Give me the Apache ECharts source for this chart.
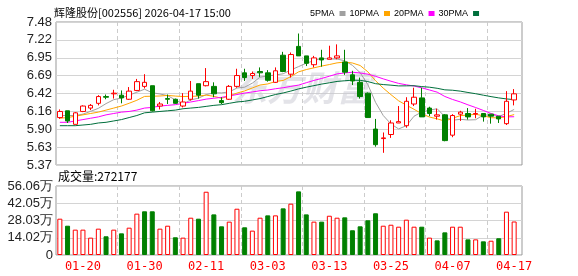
<!DOCTYPE html>
<html><head><meta charset="utf-8">
<script src="https://cdn.jsdelivr.net/npm/echarts@6/dist/echarts.min.js"></script>
<style>html,body{margin:0;padding:0;background:#fff}#c{width:578px;height:276px}</style>
</head><body><div id="c"></div>
<script>
const dates = ['01-15','01-16','01-19','01-20','01-21','01-22','01-23','01-26','01-27','01-28','01-29','01-30','02-02','02-03','02-04','02-05','02-06','02-09','02-10','02-11','02-12','02-13','02-24','02-25','02-26','02-27','03-02','03-03','03-04','03-05','03-06','03-09','03-10','03-11','03-12','03-13','03-16','03-17','03-18','03-19','03-20','03-23','03-24','03-25','03-26','03-27','03-30','03-31','04-01','04-02','04-03','04-07','04-08','04-09','04-10','04-13','04-14','04-15','04-16','04-17'];
const opens = [6.07,6.17,5.97,6.16,6.21,6.28,6.38,6.42,6.40,6.34,6.47,6.53,6.54,6.24,6.35,6.34,6.24,6.34,6.57,6.54,6.53,6.32,6.34,6.53,6.73,6.69,6.75,6.73,6.59,6.99,6.71,7.12,6.98,6.85,6.95,6.93,6.95,6.89,6.70,6.59,6.43,5.90,5.76,5.82,5.99,5.95,6.27,6.36,6.21,6.09,6.11,5.81,6.12,6.13,6.12,6.13,6.12,6.09,5.98,6.33];
const closes = [6.16,6.02,6.14,6.24,6.25,6.38,6.37,6.43,6.36,6.46,6.60,6.59,6.17,6.27,6.34,6.28,6.30,6.46,6.40,6.60,6.42,6.29,6.53,6.69,6.66,6.72,6.73,6.62,6.76,6.75,7.00,6.98,6.87,6.95,6.92,6.95,6.98,6.74,6.61,6.38,6.07,5.67,5.77,5.99,6.01,6.31,6.37,6.08,6.13,6.11,5.73,6.10,6.15,6.08,6.13,6.08,6.09,6.05,6.31,6.42];
const lows = [6.05,5.99,5.97,6.15,6.18,6.25,6.34,6.35,6.28,6.33,6.46,6.50,6.16,6.19,6.27,6.27,6.22,6.32,6.35,6.53,6.37,6.27,6.33,6.51,6.61,6.64,6.67,6.60,6.58,6.74,6.66,6.98,6.83,6.81,6.82,6.93,6.93,6.70,6.55,6.35,6.07,5.64,5.55,5.77,5.99,5.92,6.24,6.08,6.09,6.04,5.72,5.78,6.02,6.04,6.06,6.01,5.98,5.99,5.96,6.25];
const highs = [6.19,6.17,6.15,6.25,6.27,6.40,6.41,6.48,6.47,6.52,6.64,6.71,6.54,6.30,6.41,6.35,6.43,6.61,6.57,6.80,6.59,6.37,6.55,6.79,6.79,6.75,6.81,6.77,6.81,7.04,7.03,7.31,6.98,6.98,7.07,7.13,7.15,7.07,6.76,6.66,6.44,6.05,5.85,6.03,6.24,6.37,6.51,6.51,6.23,6.20,6.12,6.12,6.17,6.21,6.20,6.13,6.12,6.09,6.46,6.49];
const volumes = [29.5,23.8,20.6,20.6,14.1,21.4,15.2,20.6,17.6,22.2,33.6,35.5,35.5,21.4,23.8,14.4,14.1,30.3,29.5,51.4,33.0,23.3,27.1,37.6,22.5,19.8,30.3,32.2,32.2,37.9,41.7,51.7,33.0,27.1,27.1,31.9,30.3,30.6,20.1,23.3,28.2,33.9,23.8,24.6,23.0,28.7,23.0,23.0,14.1,11.9,18.4,23.0,23.0,12.7,12.7,11.1,11.6,13.6,35.2,27.2177];
const ma5 = [6.10,6.10,6.10,6.12,6.162,6.206,6.276,6.334,6.358,6.400,6.444,6.488,6.436,6.418,6.394,6.330,6.272,6.330,6.356,6.408,6.436,6.434,6.448,6.506,6.518,6.578,6.666,6.684,6.698,6.716,6.772,6.822,6.872,6.910,6.944,6.934,6.934,6.908,6.840,6.732,6.556,6.294,6.100,5.976,5.902,5.950,6.090,6.152,6.180,6.200,6.084,6.030,6.044,6.034,6.038,6.108,6.106,6.086,6.132,6.190];
const ma10 = [6.06,6.07,6.09,6.11,6.13,6.15,6.18,6.21,6.24,6.281,6.325,6.382,6.385,6.388,6.397,6.387,6.380,6.383,6.387,6.401,6.384,6.354,6.389,6.431,6.463,6.507,6.550,6.566,6.602,6.617,6.675,6.744,6.778,6.804,6.830,6.852,6.877,6.889,6.875,6.838,6.745,6.614,6.504,6.408,6.317,6.253,6.192,6.126,6.078,6.051,6.017,6.060,6.098,6.107,6.119,6.096,6.068,6.065,6.083,6.114];
const ma20 = [6.00,6.00,6.02,6.04,6.06,6.08,6.11,6.13,6.15,6.16,6.18,6.21,6.22,6.24,6.25,6.26,6.28,6.30,6.32,6.342,6.355,6.368,6.388,6.410,6.431,6.448,6.466,6.476,6.495,6.510,6.530,6.549,6.584,6.618,6.647,6.680,6.714,6.728,6.739,6.728,6.710,6.679,6.641,6.606,6.574,6.553,6.535,6.508,6.477,6.445,6.381,6.337,6.301,6.258,6.218,6.175,6.130,6.095,6.080,6.082];
const ma30 = [5.95,5.95,5.95,5.96,5.97,5.99,6.00,6.02,6.04,6.07,6.10,6.14,6.15,6.16,6.17,6.18,6.20,6.21,6.22,6.235,6.25,6.26,6.28,6.30,6.31,6.33,6.35,6.38,6.41,6.433,6.461,6.493,6.518,6.541,6.564,6.583,6.603,6.613,6.622,6.619,6.601,6.570,6.557,6.548,6.537,6.538,6.540,6.527,6.518,6.502,6.479,6.473,6.460,6.440,6.422,6.400,6.379,6.360,6.345,6.334];
const priceTicks = ['5.37','5.63','5.90','6.16','6.42','6.69','6.95','7.22','7.48'];
const volTicks = ['0','14.02万','28.03万','42.05万','56.06万'];
const titleText = '辉隆股份[002556] 2026-04-17 15:00';
const volText = '成交量:272177';

const RED = '#ff0000', GREEN = '#008000';
const kData = opens.map((o, i) => [o, closes[i], lows[i], highs[i]]);
const volData = volumes.map((v, i) => {
  const up = i === 0 ? closes[i] >= opens[i] : closes[i] >= closes[i - 1];
  return { value: v, itemStyle: { color: up ? '#ffffff' : GREEN, borderColor: up ? RED : GREEN, borderWidth: 1 } };
});

const chart = echarts.init(document.getElementById('c'), null, { renderer: 'canvas' });
const labelFont = { fontFamily: '"Liberation Sans", Arial, sans-serif', color: '#222', fontSize: 13 };
const frameX = (gi) => ({
  type: 'value', gridIndex: gi, min: -3.5, max: 57, interval: 8,
  axisLine: { show: false }, axisTick: { show: false }, axisLabel: { show: false },
  splitLine: { show: true, lineStyle: { color: '#cccccc', type: [4, 3], width: 1 } }
});
const maLine = (name, data, color) => ({
  name, type: 'line', xAxisIndex: 1, yAxisIndex: 1, data, symbol: 'none', smooth: false,
  lineStyle: { width: 1, color }, itemStyle: { color }, z: 3
});

chart.setOption({
  animation: false,
  backgroundColor: '#fff',
  title: { text: titleText, left: 49, top: 2, textStyle: { fontSize: 11, fontWeight: 'normal', color: '#000', fontFamily: '"Noto Sans CJK SC", sans-serif' } },
  legend: {
    top: 4, left: 305, align: 'right', icon: 'rect', itemWidth: 6, itemHeight: 5, itemGap: 4,
    textStyle: { fontSize: 9, color: '#000', fontFamily: '"Liberation Sans Narrow", "Liberation Sans", sans-serif' },
    data: ['5PMA', '10PMA', '20PMA', '30PMA']
  },
  graphic: [
    { type: 'text', left: 58, top: 170, z: 10, style: { text: volText, fontSize: 12, fill: '#000', fontFamily: '"Noto Sans CJK SC", sans-serif' } },
    { type: 'text', left: 232, top: 70, z: 1, silent: true, style: { text: '东方财富', fontSize: 35, fontWeight: 'bold', fontStyle: 'italic', fill: 'rgba(200,200,210,0.5)', fontFamily: '"Noto Sans CJK SC", sans-serif' } }
  ],
  grid: [
    { left: 56, top: 22, width: 466, height: 143, show: true, borderColor: '#999', borderWidth: 1, backgroundColor: 'transparent' },
    { left: 56, top: 22, width: 462, height: 143 },
    { left: 56, top: 186, width: 466, height: 69, show: true, borderColor: '#999', borderWidth: 1, backgroundColor: 'transparent' },
    { left: 56, top: 186, width: 462, height: 69 }
  ],
  xAxis: [
    frameX(0),
    { type: 'category', gridIndex: 1, data: dates, boundaryGap: true, show: false },
    frameX(2),
    { type: 'category', gridIndex: 3, data: dates, boundaryGap: true,
      axisLine: { show: false }, axisTick: { show: false }, splitLine: { show: false },
      axisLabel: { interval: (i) => i % 8 === 3, color: RED, fontSize: 12, margin: 6, fontFamily: '"DejaVu Sans Mono", monospace' } }
  ],
  yAxis: [
    { type: 'value', gridIndex: 0, min: 0, max: 8, interval: 1,
      axisLine: { show: false }, axisTick: { show: false },
      axisLabel: Object.assign({ margin: 4, formatter: (v) => priceTicks[v] }, labelFont),
      splitLine: { show: true, lineStyle: { color: '#d4d4d4', width: 1 } } },
    { type: 'value', gridIndex: 1, min: 5.37, max: 7.48, show: false, splitLine: { show: false } },
    { type: 'value', gridIndex: 2, min: 0, max: 4, interval: 1,
      axisLine: { show: false }, axisTick: { show: false },
      axisLabel: Object.assign({ margin: 3, formatter: (v) => volTicks[v] }, labelFont),
      splitLine: { show: true, lineStyle: { color: '#d4d4d4', width: 1 } } },
    { type: 'value', gridIndex: 3, min: 0, max: 56.06, show: false, splitLine: { show: false } }
  ],
  series: [
    { type: 'candlestick', xAxisIndex: 1, yAxisIndex: 1, data: kData, barWidth: 5, z: 4,
      itemStyle: { color: '#ffffff', color0: GREEN, borderColor: RED, borderColor0: GREEN, borderWidth: 1 } },
    maLine('5PMA', ma5, '#a0a0a0'),
    maLine('10PMA', ma10, '#ffa500'),
    maLine('20PMA', ma20, '#ff00ff'),
    maLine('30PMA', ma30, '#006f3c'),
    { type: 'bar', xAxisIndex: 3, yAxisIndex: 3, data: volData, barWidth: 5 }
  ]
});
</script></body></html>
